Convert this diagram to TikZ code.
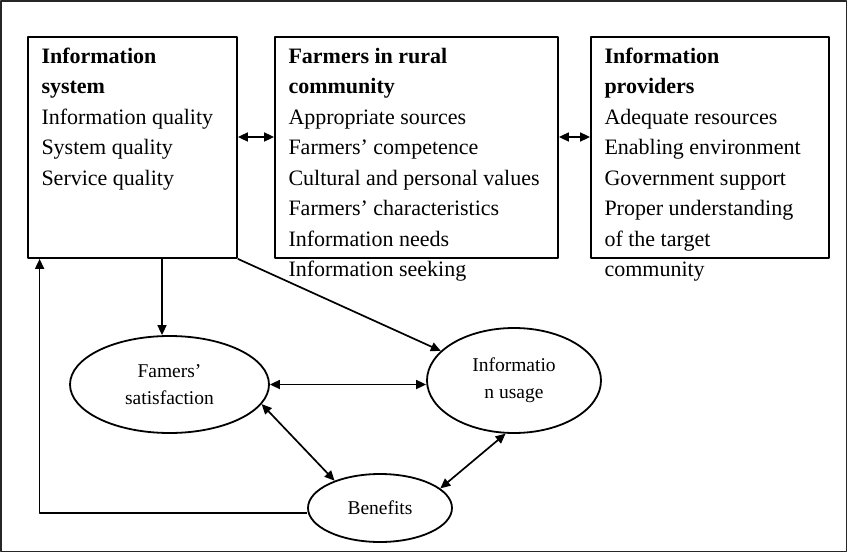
\documentclass[tikz,border=0pt]{standalone}
\usepackage{fontspec}
\setmainfont{Liberation Serif}
\usetikzlibrary{arrows.meta,shapes.geometric}
\tikzset{
  every picture/.style={line join=round, >={Triangle[length=5pt,width=4.5pt]}},
  box/.style={draw, line width=0.9pt, inner sep=0pt, minimum height=110.5pt},
  boxtext/.style={anchor=north west, align=left, inner sep=0pt, font=\fontsize{11}{15.25}\selectfont},
  oval/.style={draw, ellipse, line width=0.9pt, inner sep=0pt, align=center, font=\fontsize{9.75}{13.5}\selectfont},
  link/.style={line width=0.85pt},
}

\begin{document}
\begin{tikzpicture}[x=0.5pt,y=0.5pt]
\useasboundingbox (0,0) rectangle (848,554);
\draw[line width=0.75pt, black!85] (1,2.5) rectangle (846.5,553);
% boxes
\node[box, minimum width=104.5pt] (sys) at (132.5,406.5) {};
\node[box, minimum width=141.5pt] (farm) at (416.5,406.5) {};
\node[box, minimum width=119pt] (prov) at (710,406.5) {};
\node[boxtext] (systxt) at ([xshift=7pt,yshift=-2.8pt]sys.north west)
  {\strut\textbf{Information}\\\textbf{system}\\Information quality\\System quality\\Service quality};
\node[boxtext] (farmtxt) at ([xshift=7pt,yshift=-2.8pt]farm.north west)
  {\strut\textbf{Farmers in rural}\\\textbf{community}\\Appropriate sources\\Farmers’ competence\\Cultural and personal values\\Farmers’ characteristics\\Information needs\\Information seeking};
\node[boxtext] (provtxt) at ([xshift=7pt,yshift=-2.8pt]prov.north west)
  {\strut\textbf{Information}\\\textbf{providers}\\Adequate resources\\Enabling environment\\Government support\\Proper understanding\\of the target\\community};
\draw[link,<->] ([yshift=5.25pt]sys.east) -- ([yshift=5.25pt]farm.west);
\draw[link,<->] ([yshift=5.25pt]farm.east) -- ([yshift=5.25pt]prov.west);
% ovals
\node[oval, minimum width=99.5pt, minimum height=48.5pt] (sat) at (169.5,169.5) {Famers’\\satisfaction};
\node[oval, minimum width=87pt, minimum height=52.5pt] (use) at (514,173.5) {Informatio\\n usage};
\node[oval, minimum width=72pt, minimum height=34pt] (ben) at (380,46) {Benefits};
% links
\draw[link,->] ([xshift=14.75pt]sys.south) -- ([xshift=14.75pt]sys.south |- sat.north);
\draw[link,->] (sys.south east) -- (use.158);
\draw[link,<->] (sat.east) -- (sat.east -| use.west);
\draw[link,<->] (sat.-12) -- (ben.149);
\draw[link,<->] (use.-99) -- (ben.18);
\draw[link,->] ([yshift=-2.5pt]ben.west) -| ([xshift=6.25pt]sys.south west);
\end{tikzpicture}
\end{document}
